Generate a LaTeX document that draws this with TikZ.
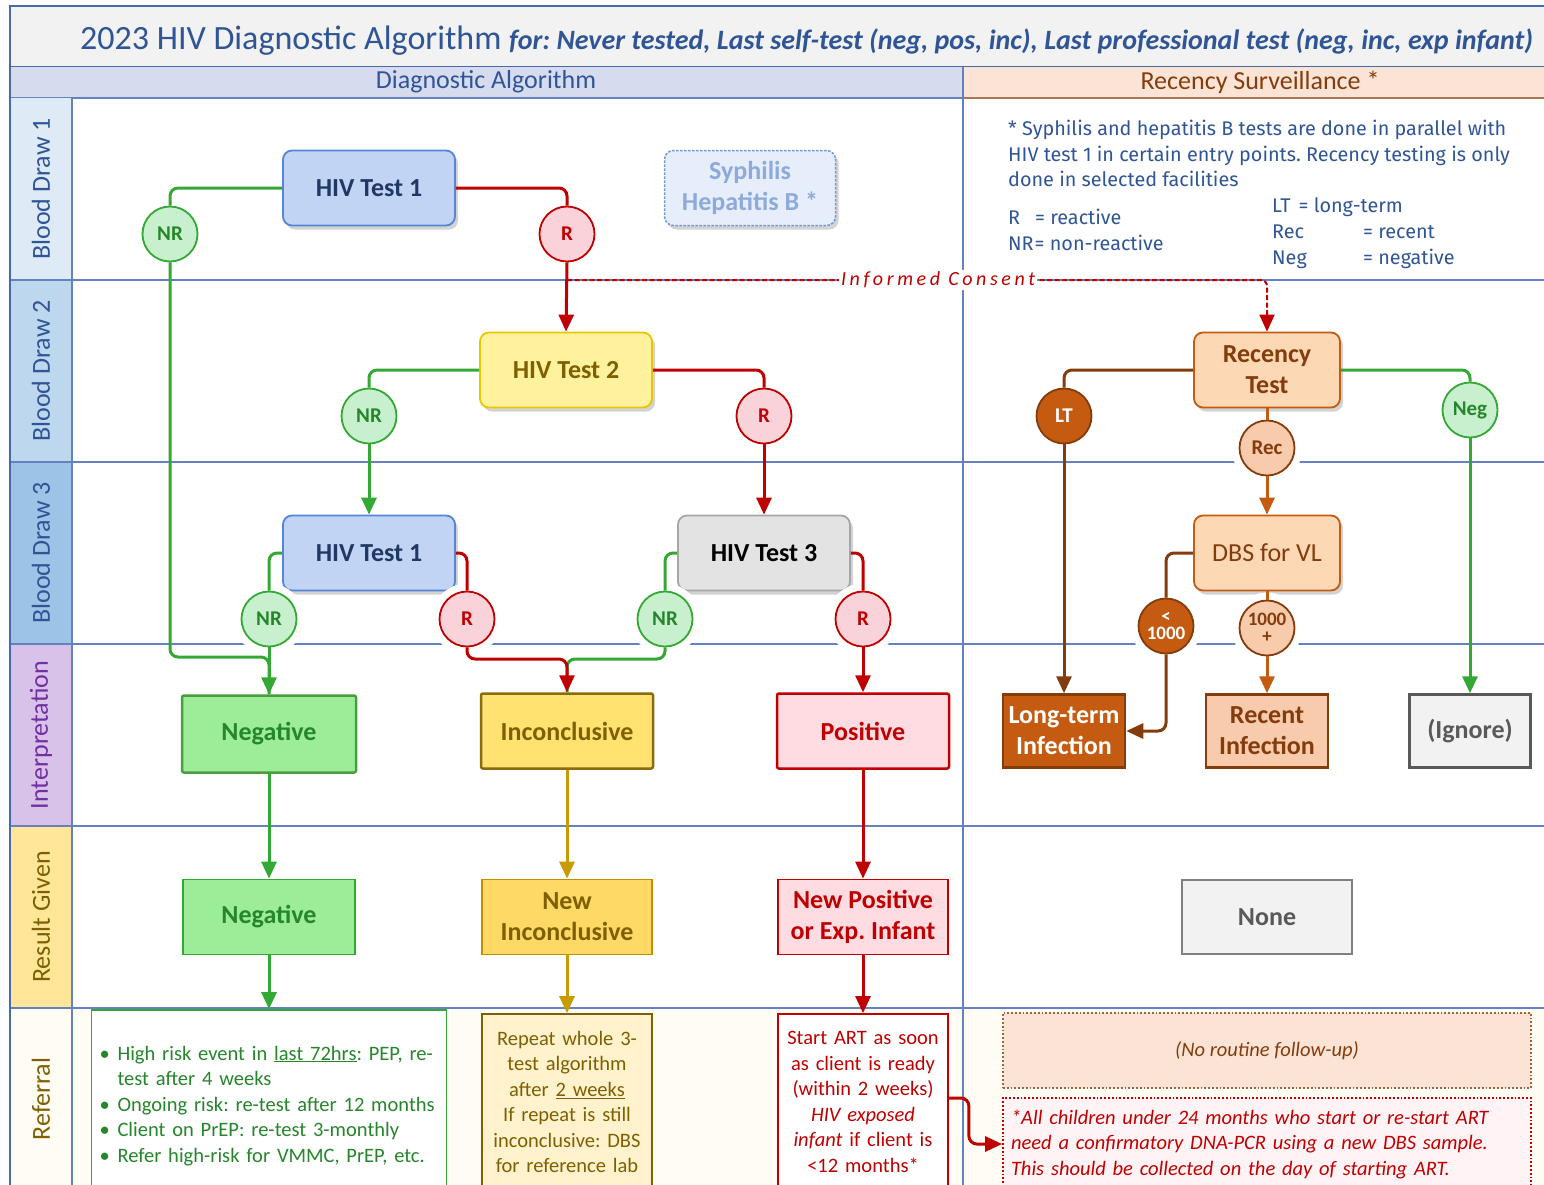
\documentclass[tikz,border=0pt]{standalone}
\usepackage{fontspec}
\setmainfont{Carlito}
\newfontfamily\legendfont{Fira Sans}
\usetikzlibrary{arrows.meta,shadows,calc}

\definecolor{hdrblue}{HTML}{2F5597}
\definecolor{gridblue}{HTML}{6482C0}
\definecolor{framebl}{HTML}{4A69A8}
\definecolor{titlegray}{HTML}{F2F2F2}
\definecolor{colhdl}{HTML}{D6DCEE}
\definecolor{colhdr}{HTML}{FBE4D5}
\definecolor{bdone}{HTML}{DEEBF7}
\definecolor{bdtwo}{HTML}{BDD7EE}
\definecolor{bdthree}{HTML}{9DC3E6}
\definecolor{interp}{HTML}{D9C2E9}
\definecolor{interptxt}{HTML}{7030A0}
\definecolor{resgiv}{HTML}{FFE699}
\definecolor{olivetxt}{HTML}{7F6000}
\definecolor{creamrow}{HTML}{FFFCF3}
\definecolor{lgreen}{HTML}{33A833}
\definecolor{dgreen}{HTML}{25862A}
\definecolor{mintfill}{HTML}{C9F0CE}
\definecolor{negfill}{HTML}{9CEC98}
\definecolor{negedge}{HTML}{4A9E3F}
\definecolor{hivred}{HTML}{C00000}
\definecolor{pinkfill}{HTML}{F9D2DA}
\definecolor{posfill}{HTML}{FFDCE2}
\definecolor{bluefill}{HTML}{C2D4F3}
\definecolor{blueedge}{HTML}{5585D6}
\definecolor{navy}{HTML}{1F3864}
\definecolor{yelfill}{HTML}{FFF29F}
\definecolor{yeledge}{HTML}{E9C600}
\definecolor{goldfill}{HTML}{FFD966}
\definecolor{incfill}{HTML}{FFE270}
\definecolor{incedge}{HTML}{8B6A10}
\definecolor{goldedge}{HTML}{BF9000}
\definecolor{goldline}{HTML}{C89B00}
\definecolor{grayfill}{HTML}{E3E3E3}
\definecolor{grayedge}{HTML}{A6A6A6}
\definecolor{peach}{HTML}{FDD8B5}
\definecolor{rust}{HTML}{C55A11}
\definecolor{rustdark}{HTML}{843C0C}
\definecolor{lightrust}{HTML}{F8CBAD}
\definecolor{ignfill}{HTML}{F2F2F2}
\definecolor{igntxt}{HTML}{595959}
\definecolor{sypfill}{HTML}{E6EEFC}
\definecolor{sypedge}{HTML}{7099DD}
\definecolor{syptxt}{HTML}{8EAADB}
\definecolor{notefill}{HTML}{FFF3F5}
\definecolor{yelref}{HTML}{FFF2CC}

\newcommand{\refitem}[1]{\par\hangindent=18pt\hangafter=1\noindent\hbox to 18pt{\textbullet\hss}#1}
\frenchspacing

\begin{document}
\begin{tikzpicture}[x=1pt,y=-1pt,
  tbox/.style={draw, rounded corners=9pt, line width=1.8pt, minimum width=172pt, minimum height=75pt,
    align=center, font=\fontsize{26}{31}\selectfont\bfseries,
    drop shadow={shadow xshift=3pt, shadow yshift=-4pt, opacity=0.35}},
  res/.style={draw, line width=2.5pt, rounded corners=2pt, minimum width=172pt, minimum height=75pt, align=center,
    font=\fontsize{26}{31}\selectfont\bfseries},
  dot/.style={circle, draw, line width=1.8pt, minimum size=55pt, inner sep=0pt, align=center,
    font=\fontsize{21}{16}\selectfont\bfseries, preaction={draw=white, line width=16pt}},
  nrdot/.style={dot, fill=mintfill, draw=lgreen, text=dgreen},
  rdot/.style={dot, fill=pinkfill, draw=hivred, text=hivred},
  refbox/.style={draw, line width=1.8pt, inner xsep=8pt, inner ysep=6pt, align=center,
    font=\fontsize{20.5}{25.5}\selectfont},
  legtxt/.style={inner sep=0pt, text=hdrblue, font=\legendfont\fontsize{19.8}{25.5}\selectfont},
  rowlbl/.style={rotate=90, font=\fontsize{26}{30}\selectfont},
  link/.style={line width=3pt, rounded corners=8pt},
  gl/.style={link, draw=lgreen},
  rl/.style={link, draw=hivred},
  yl/.style={link, draw=goldline},
  bl/.style={link, draw=rustdark},
  ol/.style={link, draw=rust},
  tip/.style={-{Triangle[length=17pt,width=15pt]}},
  consent/.style={draw=hivred, line width=2pt, dash pattern=on 5pt off 2.5pt, rounded corners=6pt}]

\useasboundingbox (0,0) rectangle (1544,1184);

\fill[creamrow] (10,1008) rectangle (1550,1190);
\draw[framebl, fill=titlegray, line width=1.5pt] (1550,6) -- (10,6) -- (10,67) -- (1550,67);
\fill[colhdl] (10,67) rectangle (963,98);
\fill[colhdr] (963,67) rectangle (1550,98);
\draw[gridblue, line width=1.5pt] (10,98) -- (963,98);
\draw[rustdark!70, line width=1.5pt] (963,98) -- (1550,98);
\foreach \ya/\yb/\fc/\tc/\lbl in {98/280/bdone/hdrblue/Blood Draw 1, 280/462/bdtwo/hdrblue/Blood Draw 2,
    462/644/bdthree/hdrblue/Blood Draw 3, 644/826/interp/interptxt/Interpretation,
    826/1008/resgiv/olivetxt/Result Given, 1008/1190/creamrow/olivetxt/Referral}{
  \fill[\fc] (10,\ya) rectangle (72,\yb);
  \node[rowlbl, text=\tc] (lbl\ya) at (41,{(\ya+\yb)/2}) {\lbl};
}
\foreach \yy in {280,462,644,826,1008}
  \draw[gridblue, line width=1.2pt] (10,\yy) -- (1550,\yy);
\draw[gridblue, line width=1.2pt] (72,98) -- (72,1190) (963,67) -- (963,1190);
\draw[framebl, line width=1.5pt] (10,6) -- (10,1190);

\node[anchor=base west, inner sep=0pt, text=hdrblue] (title) at (80,49)
  {\fontsize{34}{40}\selectfont 2023 HIV Diagnostic Algorithm\ {\fontsize{28}{32}\selectfont\bfseries\itshape for: Never tested, Last self-test (neg, pos, inc), Last professional test (neg, inc, exp infant)}};
\node[text=hdrblue, font=\fontsize{26}{30}\selectfont] (colalg) at (486,82) {Diagnostic Algorithm};
\node[text=rustdark, font=\fontsize{26}{30}\selectfont] (colrec) at (1260,82) {Recency Surveillance *};

\node[legtxt, anchor=north west, align=left] (legnote) at (1008,120)
  {* Syphilis and hepatitis B tests are done in parallel with\\HIV test 1 in certain entry points. Recency testing is only\\done in selected facilities};
\node[legtxt, anchor=base west] (legr) at (1008,224) {R\hspace{15pt}= reactive};
\node[legtxt, anchor=base west] (legnr) at (1008,250) {NR\hspace{1pt}= non-reactive};
\node[legtxt, anchor=base west] (leglt) at (1272,212) {LT\hspace{8pt}= long-term};
\node[legtxt, anchor=base west] (legrec) at (1272,238) {Rec};
\node[legtxt, anchor=base west] (legrecv) at (1363,238) {= recent};
\node[legtxt, anchor=base west] (legneg) at (1272,264) {Neg};
\node[legtxt, anchor=base west] (legnegv) at (1363,264) {= negative};

\node[tbox, fill=bluefill, draw=blueedge, text=navy] (tsta) at (369,188) {HIV Test 1};
\node[nrdot] (nra) at (170,234) {NR};
\node[rdot] (ra) at (567,234) {R};
\node[tbox, fill=sypfill, draw=sypedge, text=syptxt, line width=1.5pt, dash pattern=on 2.5pt off 1.5pt,
  minimum width=171pt] (syph) at (750,188) {Syphilis\\Hepatitis B *};
\node[tbox, fill=yelfill, draw=yeledge, text=olivetxt] (tstb) at (566,370) {HIV Test 2};
\node[nrdot] (nrb) at (369,416) {NR};
\node[rdot] (rb) at (764,416) {R};
\node[tbox, fill=bluefill, draw=blueedge, text=navy] (tstc) at (369,553) {HIV Test 1};
\node[tbox, fill=grayfill, draw=grayedge, text=black] (tstd) at (764,553) {HIV Test 3};
\node[nrdot] (nrc) at (269,619) {NR};
\node[rdot] (rc) at (467,619) {R};
\node[nrdot] (nrd) at (665,619) {NR};
\node[rdot] (rd) at (863,619) {R};

\node[res, fill=negfill, draw=negedge, text=dgreen, minimum width=174pt, minimum height=77pt] (negi) at (269,734) {Negative};
\node[res, fill=incfill, draw=incedge, text=olivetxt] (inci) at (567,731) {Inconclusive};
\node[res, fill=posfill, draw=hivred, text=hivred] (posi) at (863,731) {Positive};
\node[res, fill=negfill, draw=lgreen, text=dgreen, line width=1.8pt, rounded corners=0pt] (negr) at (269,917) {Negative};
\node[res, fill=goldfill, draw=goldedge, text=olivetxt, line width=1.8pt, rounded corners=0pt, minimum width=170pt] (incr) at (567,917) {New\\Inconclusive};
\node[res, fill=posfill, draw=hivred, text=hivred, line width=1.8pt, rounded corners=0pt, minimum width=170pt] (posr) at (863,917) {New Positive\\or Exp. Infant};

\node[refbox, draw=lgreen, fill=white, text=dgreen, text width=339pt, minimum height=180pt, align=left] (refneg) at (269,1100)
  {\refitem{High risk event in \underline{last 72hrs}: PEP, re-\newline test after 4 weeks}
   \refitem{Ongoing risk: re-test after 12 months}
   \refitem{Client on PrEP: re-test 3-monthly}
   \refitem{Refer high-risk for VMMC, PrEP, etc.}};
\node[refbox, draw=olivetxt, fill=yelref, text=olivetxt, text width=154pt, minimum height=176pt] (refinc) at (567,1102)
  {Repeat whole 3-\\test algorithm\\after \underline{2 weeks}\\If repeat is still\\inconclusive: DBS\\for reference lab};
\node[refbox, draw=hivred, fill=white, text=hivred, text width=154pt, minimum height=176pt] (refpos) at (863,1102)
  {Start ART as soon\\as client is ready\\(within 2 weeks)\\\textit{HIV exposed}\\\textit{infant} if client is\\<12 months*};

\node[tbox, fill=peach, draw=rust, text=rustdark, minimum width=146pt] (rct) at (1267,370) {Recency\\Test};
\node[dot, fill=rust, draw=rustdark, text=white] (ltd) at (1064,416) {LT};
\node[dot, fill=lightrust, draw=rustdark, text=rustdark] (recd) at (1267,448) {Rec};
\node[nrdot] (negd) at (1470,410) {Neg};
\node[tbox, fill=peach, draw=rust, text=rustdark, minimum width=146pt, font=\fontsize{26}{31}\selectfont] (dbs) at (1267,553) {DBS for VL};
\node[dot, fill=rust, draw=rustdark, text=white, font=\fontsize{19}{17}\selectfont\bfseries] (lowd) at (1166,626)
  {{\fontsize{19}{17}\selectfont<}\\1000};
\node[dot, fill=lightrust, draw=rustdark, text=rustdark, font=\fontsize{19}{17}\selectfont\bfseries] (highd) at (1267,628)
  {1000\\{\fontsize{19}{17}\selectfont+}};
\node[res, fill=rust, draw=rustdark, text=white, minimum width=122pt, minimum height=73pt, rounded corners=0pt] (ltinf) at (1064,731) {Long-term\\Infection};
\node[res, fill=lightrust, draw=rustdark, text=rustdark, minimum width=122pt, minimum height=73pt, rounded corners=0pt] (rcinf) at (1267,731) {Recent\\Infection};
\node[res, fill=ignfill, draw=igntxt, text=igntxt, minimum width=121pt, minimum height=73pt, rounded corners=0pt] (ign) at (1470,731) {(Ignore)};
\node[res, fill=ignfill, draw=gray, text=igntxt, minimum width=170pt, minimum height=74pt, line width=1.5pt, rounded corners=0pt] (none) at (1267,917) {None};

\node[refbox, draw=rustdark!80, fill=colhdr, text=rustdark, dotted, minimum width=528pt, minimum height=75pt] (nofu) at (1267,1050.5)
  {\textit{(No routine follow-up)}};
\node[refbox, draw=hivred, fill=notefill, text=hivred, dotted, text width=512pt, minimum height=92pt, align=left] (note) at (1267,1144)
  {\itshape *All children under 24 months who start or re-start ART\\need a confirmatory DNA-PCR using a new DBS sample.\\This should be collected on the day of starting ART.};

\coordinate (jnneg) at (269,657);
\coordinate (jninc) at (567,659);
\coordinate (icstart) at (567,280);
\coordinate (artturn) at (949,1098);

\draw[gl] (tsta.west) -| (nra.north);
\draw[gl] (nra.south) |- (jnneg) -- (negi.north);
\draw[rl] (tsta.east) -| (ra.north);
\draw[rl,tip] (ra.south) -- (tstb.north);
\draw[gl] (tstb.west) -| (nrb.north);
\draw[gl,tip] (nrb.south) -- (tstc.north);
\draw[rl] (tstb.east) -| (rb.north);
\draw[rl,tip] (rb.south) -- (tstd.north);
\draw[gl] (tstc.west) -| (nrc.north);
\draw[gl,tip] (nrc.south) -- (negi.north);
\draw[gl] (tstd.west) -| (nrd.north);
\draw[gl] (nrd.south) |- (jninc) -- (inci.north);
\draw[rl] (tstc.east) -| (rc.north);
\draw[rl,tip] (rc.south) |- (jninc) -- (inci.north);
\draw[rl] (tstd.east) -| (rd.north);
\draw[rl,tip] (rd.south) -- (posi.north);
\draw[gl,tip] (negi) -- (negr);
\draw[gl,tip] (negr) -- (refneg);
\draw[yl,tip] (inci) -- (incr);
\draw[yl,tip] (incr) -- (refinc);
\draw[rl,tip] (posi) -- (posr);
\draw[rl,tip] (posr) -- (refpos);
\draw[consent,tip] (icstart) -| node[pos=0.265, fill=white, inner sep=2pt, text=hivred,
  font=\fontsize{20}{22}\selectfont\itshape\addfontfeatures{LetterSpace=18}] (consent) {Informed Consent} (rct.north);
\draw[bl] (rct.west) -| (ltd.north);
\draw[bl,tip] (ltd.south) -- (ltinf.north);
\draw[ol] (rct.south) -- (recd.north);
\draw[ol,tip] (recd.south) -- (dbs.north);
\draw[gl] (rct.east) -| (negd.north);
\draw[gl,tip] (negd.south) -- (ign.north);
\draw[bl] (dbs.west) -| (lowd.north);
\draw[bl,tip] (lowd.south) |- (ltinf.east);
\draw[ol] (dbs.south) -- (highd.north);
\draw[ol,tip] (highd.south) -- (rcinf.north);
\draw[rl,tip] (refpos.east |- artturn) -- ++(20,0) |- (note.west);
\end{tikzpicture}
\end{document}
